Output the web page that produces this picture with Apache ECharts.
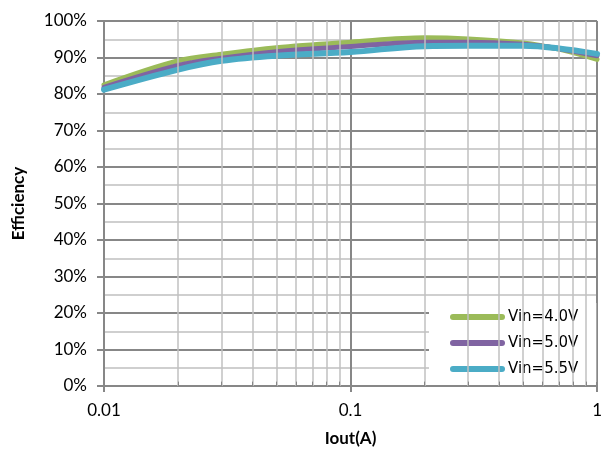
<!DOCTYPE html>
<html>
<head>
<meta charset="utf-8">
<script src="https://cdn.jsdelivr.net/npm/echarts@6/dist/echarts.min.js"></script>
<style>html,body{margin:0;padding:0;background:#fff}#c{width:605px;height:452px}</style>
</head>
<body>
<div id="c"></div>
<script>
const iout = [0.01, 0.02, 0.03, 0.05, 0.1, 0.2, 0.3, 0.5, 0.7, 1];
const vin40 = [82.5, 89.1, 90.9, 92.7, 94.2, 95.4, 95.1, 94.0, 92.3, 89.5];
const vin50 = [81.8, 87.8, 89.8, 91.6, 93.0, 94.2, 94.2, 93.6, 92.4, 90.5];
const vin55 = [81.2, 86.7, 89.1, 90.5, 91.5, 93.1, 93.2, 93.2, 92.5, 91.0];
const seriesNames = ['Vin=4.0V', 'Vin=5.0V', 'Vin=5.5V'];
const minorX = [0.02,0.03,0.04,0.05,0.06,0.07,0.08,0.09,0.2,0.3,0.4,0.5,0.6,0.7,0.8,0.9];
const xTickLabels = ['0.01', '0.1', '1'];

const GRID_DARK = '#878787', GRID_LIGHT = '#c0c0c0';
const font = 'Lato, "Open Sans", sans-serif';
const pair = (ys) => iout.map((x, i) => [x, ys[i]]);
const capsule = 'path://M3,0 H52 A3,3 0 0 1 52,6 H3 A3,3 0 0 1 3,0 Z';

const chart = echarts.init(document.getElementById('c'), null, {renderer: 'canvas'});
chart.setOption({
  animation: false,
  backgroundColor: '#fff',
  title: {
    text: '(VOUT = 3.3V)', left: 245, top: -23,
    textStyle: {fontFamily: font, fontWeight: 'bold', fontSize: 17, color: '#000'}
  },
  grid: {left: 104, right: 3, top: 21, bottom: 66, containLabel: false},
  legend: {
    data: seriesNames, orient: 'vertical', left: 429, top: 303,
    backgroundColor: '#fff', padding: [6, 18, 5, 21],
    itemWidth: 55, itemHeight: 6, itemGap: 10, icon: capsule,
    textStyle: {fontFamily: '"DejaVu Sans", sans-serif', fontSize: 15, color: '#000', lineHeight: 16, padding: [0,0,0,-2]}
  },
  xAxis: {
    type: 'log', logBase: 10, min: 0.01, max: 1,
    name: 'Iout(A)', nameLocation: 'middle', nameGap: 44,
    nameTextStyle: {fontFamily: font, fontWeight: 'bold', fontSize: 17, color: '#000'},
    axisLine: {show: true, lineStyle: {color: GRID_DARK, width: 2}},
    axisTick: {show: true, length: 6, lineStyle: {color: GRID_DARK, width: 2}},
    axisLabel: {
      margin: 16, fontFamily: font, fontSize: 17, color: '#000',
      formatter: (v) => { const s = String(+v.toPrecision(3)); return xTickLabels.includes(s) ? s : ''; }
    },
    splitLine: {show: true, lineStyle: {color: GRID_DARK, width: 2}}
  },
  yAxis: {
    type: 'value', min: 0, max: 100, interval: 10,
    name: 'Efficiency', nameLocation: 'middle', nameGap: 77, nameRotate: 90,
    nameTextStyle: {fontFamily: font, fontWeight: 'bold', fontSize: 17, color: '#000'},
    axisLine: {show: true, lineStyle: {color: GRID_DARK, width: 2}},
    axisTick: {show: true, length: 7, lineStyle: {color: GRID_DARK, width: 2}},
    axisLabel: {margin: 17, fontFamily: font, fontSize: 17, color: '#000', formatter: '{value}%'},
    splitLine: {show: true, lineStyle: {color: GRID_DARK, width: 2}},
    minorTick: {show: false, splitNumber: 2},
    minorSplitLine: {show: true, lineStyle: {color: GRID_LIGHT, width: 1.5}}
  },
  series: [
    {
      name: 'grid-helper', type: 'line', z: 1, silent: true,
      data: pair(vin40), symbol: 'none', lineStyle: {opacity: 0},
      markLine: {
        silent: true, symbol: ['none', 'none'], label: {show: false}, animation: false,
        lineStyle: {color: GRID_LIGHT, width: 1.5, type: 'solid'},
        emphasis: {disabled: true},
        data: minorX.map(v => ({xAxis: v}))
          .concat(minorX.map(v => [{coord: [v, 0], lineStyle: {color: GRID_DARK, width: 1}}, {coord: [v, 1.2]}]))
      }
    },
    {name: seriesNames[0], type: 'line', z: 3, data: pair(vin40), smooth: 0.35, symbol: 'none',
     lineStyle: {color: '#9BBB59', width: 5, cap: 'round', join: 'round'}, itemStyle: {color: '#9BBB59'}},
    {name: seriesNames[1], type: 'line', z: 3, data: pair(vin50), smooth: 0.35, symbol: 'none',
     lineStyle: {color: '#8064A2', width: 5, cap: 'round', join: 'round'}, itemStyle: {color: '#8064A2'}},
    {name: seriesNames[2], type: 'line', z: 3, data: pair(vin55), smooth: 0.35, symbol: 'none',
     lineStyle: {color: '#4BACC6', width: 6, cap: 'round', join: 'round'}, itemStyle: {color: '#4BACC6'}}
  ]
});
</script>
</body>
</html>
